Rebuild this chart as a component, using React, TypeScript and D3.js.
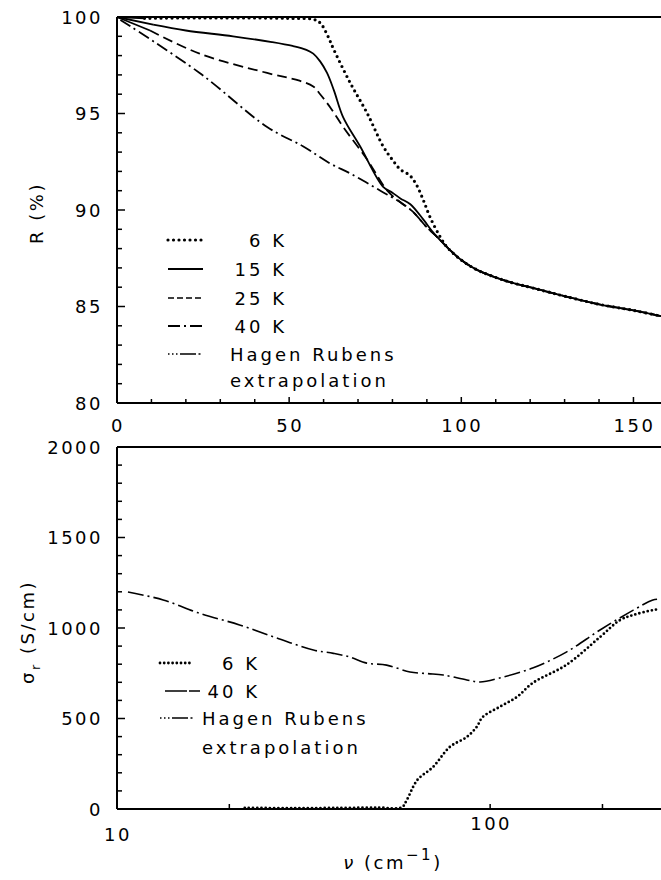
import React from "react";
import * as d3 from "d3";

// ---------- DATA ----------
const topYTicks = [80, 85, 90, 95, 100];
const topXTicks = [0, 50, 100, 150];
const botYTicks = [0, 500, 1000, 1500, 2000];
const botXTicks = [10, 100];

const tailR: [number, number][] = [
  [99.7, 87.45], [104, 86.95], [109.3, 86.55], [115, 86.22], [121, 85.95],
  [130.8, 85.5], [140.4, 85.1], [150, 84.8], [158, 84.5],
];
const R6K: [number, number][] = [
  [8, 99.93], [20, 99.95], [30, 99.95], [40, 99.95], [50, 99.93], [57, 99.88],
  [59, 99.7], [61, 99.1], [63, 98.3], [67.7, 96.6], [72.7, 95.0], [77.3, 93.3],
  [80, 92.6], [82.3, 92.1], [85, 91.8], [87, 91.3], [89, 90.5], [91, 89.6],
  [93.9, 88.6], [96, 88.05],
];
const R15K: [number, number][] = [
  [10.5, 99.6], [20, 99.3], [33.7, 99.0], [45, 98.7], [51, 98.5], [55, 98.3],
  [57, 98.1], [59, 97.7], [61, 97.1], [63, 96.2], [65.7, 94.8], [70.6, 93.3],
  [77.3, 91.2], [80, 90.9], [82.3, 90.6], [85.2, 90.3], [89, 89.5], [92, 88.8],
  [96, 88.05],
];
const R25K: [number, number][] = [
  [9.6, 99.3], [24, 98.1], [43.6, 97.1], [53, 96.7], [57, 96.4], [59, 96.0],
  [62, 95.3], [65.7, 94.3], [72.7, 92.6], [78.5, 91.0], [82.3, 90.4], [86, 89.9],
  [90, 89.1], [93, 88.6], [96, 88.05],
];
const R40K: [number, number][] = [
  [1, 99.85], [24, 97.1], [43.6, 94.3], [54, 93.3], [62, 92.4], [67.7, 91.9],
  [76.5, 91.0], [82.3, 90.4], [86, 89.9], [90, 89.1], [93, 88.6], [96, 88.05],
];
const hagenTop: [number, number][][] = [
  [[0, 100], [8, 99.93]],
  [[0, 100], [10.5, 99.6]],
  [[0, 100], [9.6, 99.3]],
];

const sig6K: [number, number][] = [
  [22, 6], [30, 5], [40, 6], [50, 8], [58, 10], [59.8, 50], [63.8, 160], [70.3, 232],
  [78, 343], [86.6, 398], [92, 453], [95.5, 508], [106, 564], [118, 619],
  [130, 696], [160, 796], [197, 950], [223, 1044], [242, 1072], [273, 1099],
  [285, 1105],
];
const sig40K: [number, number][] = [
  [10.7, 1199], [13.3, 1155], [16.7, 1080], [21.3, 1017], [26.8, 945],
  [33.6, 878], [38, 860], [42, 840], [46.7, 806], [52.8, 795], [61, 757],
  [68, 748], [74.9, 740], [86.6, 713], [94, 702], [106, 724], [130, 779],
  [160, 867], [197, 989], [242, 1099], [273, 1155], [285, 1160],
];

const topLegend = ["6 K", "15 K", "25 K", "40 K"];
const botLegend = ["6 K", "40 K"];
const hagenLabel = ["Hagen Rubens", "extrapolation"];

// ---------- STYLES ----------
const FONT = "DejaVu Sans, Liberation Sans, sans-serif";
const styles: Record<string, { dash?: string; width: number; cap?: string }> = {
  dot: { dash: "0 5.5", width: 3.2, cap: "round" },
  dotSmall: { dash: "0 4.2", width: 2.8, cap: "round" },
  solid: { width: 1.8 },
  dash: { dash: "10 5", width: 1.8 },
  dashLeg: { dash: "6 3", width: 1.6 },
  dashdot: { dash: "12 4 2 4", width: 1.8 },
  hagenLeg: { dash: "1.5 2.5 1.5 2.5 1.5 2.5 16 2.5 2 10", width: 1.6 },
  longdashdot: { dash: "16 4 2 4", width: 1.6 },
  longLeg: { dash: "22 2 14", width: 1.6 },
};

export default function App() {
  const xTop = d3.scaleLinear().domain([0, 158]).range([117, 661]);
  const yTop = d3.scaleLinear().domain([80, 100]).range([403, 17]);
  const xBot = d3.scaleLog().domain([10, 287]).range([117, 661]);
  const yBot = d3.scaleLinear().domain([0, 2000]).range([809, 447]);

  const lineTop = d3.line<[number, number]>().x((d) => xTop(d[0])).y((d) => yTop(d[1])).curve(d3.curveCatmullRom.alpha(0.5));
  const lineBot = d3.line<[number, number]>().x((d) => xBot(d[0])).y((d) => yBot(d[1])).curve(d3.curveCatmullRom.alpha(0.5));

  const P = (d: string | null, s: keyof typeof styles, key?: string) => (
    <path
      key={key}
      d={d || ""}
      fill="none"
      stroke="#000"
      strokeWidth={styles[s].width}
      strokeDasharray={styles[s].dash}
      strokeLinecap={(styles[s].cap as any) || "butt"}
    />
  );

  const textStyle = { fontFamily: FONT, fontSize: 18, letterSpacing: 2.5, fill: "#000" } as const;
  const legStyle = { ...textStyle, letterSpacing: 3 } as const;

  const topYMinor = d3.range(80, 100.01, 1);
  const topXMinor = d3.range(10, 160, 10);
  const botYMinor = d3.range(0, 2000.01, 100);
  const botXMinor = [20, 100, 200];

  const topSeries: [[number, number][], keyof typeof styles][] = [
    [R40K.concat(tailR), "dashdot"],
    [R25K.concat(tailR), "dash"],
    [R15K.concat(tailR), "solid"],
    [R6K.concat(tailR), "dot"],
  ];
  const topLegendStyles: (keyof typeof styles)[] = ["dot", "solid", "dashLeg", "dashdot"];
  const topLegendY = [240, 269, 298, 326];
  const botLegendStyles: (keyof typeof styles)[] = ["dotSmall", "longLeg"];
  const botLegendY = [663, 691];

  return (
    <svg width={661} height={880} style={{ position: "absolute", left: 0, top: 0, background: "#fff" }}>
      <rect x={0} y={0} width={661} height={880} fill="#fff" />
      {/* ===== TOP PANEL ===== */}
      {hagenTop.map((seg, i) => P(lineTop(seg), "solid", "h" + i))}
      {topSeries.map(([d, s], i) => P(lineTop(d), s, "t" + i))}
      <line x1={117} x2={661} y1={yTop(100)} y2={yTop(100)} stroke="#000" strokeWidth={2} />
      <line x1={117} x2={661} y1={yTop(80)} y2={yTop(80)} stroke="#000" strokeWidth={2} />
      <line x1={117} x2={117} y1={yTop(100)} y2={yTop(80)} stroke="#000" strokeWidth={2} />
      {topYMinor.map((v) => (
        <line key={"tym" + v} x1={117} x2={117 + (v % 5 === 0 ? 8 : 5)} y1={yTop(v)} y2={yTop(v)} stroke="#000" strokeWidth={1.5} />
      ))}
      {topXMinor.map((v) => (
        <line key={"txm" + v} x1={xTop(v)} x2={xTop(v)} y1={yTop(80)} y2={yTop(80) - (v % 50 === 0 ? 6 : 4)} stroke="#000" strokeWidth={1.5} />
      ))}
      {topYTicks.map((v) => (
        <text key={"tyl" + v} x={103} y={yTop(v) + 6.5} textAnchor="end" style={textStyle}>{v}</text>
      ))}
      {topXTicks.map((v) => (
        <text key={"txl" + v} x={xTop(v) + 1} y={432} textAnchor="middle" style={textStyle}>{v}</text>
      ))}
      <text transform="translate(43,213) rotate(-90)" textAnchor="middle" style={textStyle}>R (%)</text>
      {topLegend.map((lab, i) => (
        <g key={"tl" + i}>
          {P(`M168,${topLegendY[i]}L203,${topLegendY[i]}`, topLegendStyles[i])}
          <text x={287} y={topLegendY[i] + 6.5} textAnchor="end" style={legStyle}>{lab}</text>
        </g>
      ))}
      {P(`M168,354L203,354`, "hagenLeg")}
      <text x={230} y={360.5} style={legStyle}>{hagenLabel[0]}</text>
      <text x={230} y={386.5} style={legStyle}>{hagenLabel[1]}</text>

      {/* ===== BOTTOM PANEL ===== */}
      {P(lineBot(sig40K), "longdashdot")}
      {P(lineBot(sig6K), "dotSmall")}
      <line x1={117} x2={661} y1={yBot(2000)} y2={yBot(2000)} stroke="#000" strokeWidth={2} />
      <line x1={117} x2={661} y1={yBot(0)} y2={yBot(0)} stroke="#000" strokeWidth={2} />
      <line x1={117} x2={117} y1={yBot(2000)} y2={yBot(0)} stroke="#000" strokeWidth={2} />
      {botYMinor.map((v) => (
        <line key={"bym" + v} x1={117} x2={117 + (v % 500 === 0 ? 8 : 5)} y1={yBot(v)} y2={yBot(v)} stroke="#000" strokeWidth={1.5} />
      ))}
      {botXMinor.map((v) => (
        <line key={"bxm" + v} x1={xBot(v)} x2={xBot(v)} y1={yBot(0)} y2={yBot(0) - 5} stroke="#000" strokeWidth={1.5} />
      ))}
      {botYTicks.map((v) => (
        <text key={"byl" + v} x={103} y={yBot(v) + 6.5} textAnchor="end" style={textStyle}>{v}</text>
      ))}
      {botXTicks.map((v) => (
        <text key={"bxl" + v} x={xBot(v) + 1} y={v === 10 ? 841 : 830} textAnchor="middle" style={textStyle}>{v}</text>
      ))}
      <text transform="translate(34,632) rotate(-90)" textAnchor="middle" style={textStyle}>
        σ<tspan dy={6} fontSize={13}>r</tspan><tspan dy={-6}> (S/cm)</tspan>
      </text>
      <text x={393} y={869} textAnchor="middle" style={textStyle}>
        <tspan fontStyle="italic">ν</tspan> (cm<tspan dy={-9} fontSize={15}>−1</tspan><tspan dy={9}>)</tspan>
      </text>
      {botLegend.map((lab, i) => (
        <g key={"bl" + i}>
          {P(`M${i === 0 ? 160 : 165},${botLegendY[i]}L${i === 0 ? 192 : 200},${botLegendY[i]}`, botLegendStyles[i])}
          <text x={260} y={botLegendY[i] + 6.5} textAnchor="end" style={legStyle}>{lab}</text>
        </g>
      ))}
      {P(`M160,718L194,718`, "hagenLeg")}
      <text x={202} y={724.5} style={legStyle}>{hagenLabel[0]}</text>
      <text x={202} y={753.5} style={legStyle}>{hagenLabel[1]}</text>
    </svg>
  );
}
